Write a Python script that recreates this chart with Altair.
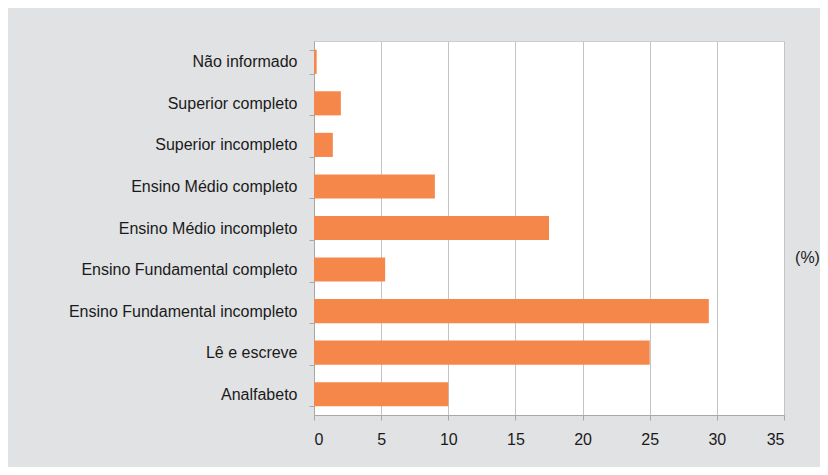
import altair as alt
import pandas as pd

categories = [
    "Não informado",
    "Superior completo",
    "Superior incompleto",
    "Ensino Médio completo",
    "Ensino Médio incompleto",
    "Ensino Fundamental completo",
    "Ensino Fundamental incompleto",
    "Lê e escreve",
    "Analfabeto",
]
values = [0.2, 2.0, 1.4, 9.0, 17.5, 5.3, 29.4, 25.0, 10.0]
x_ticks = [0, 5, 10, 15, 20, 25, 30, 35]

df = pd.DataFrame({"categoria": categories, "valor": values})

FONT = "Liberation Sans"
FS = 16
BG = "#e1e2e4"
ORANGE = "#f5874a"
TXT = "#1a1a1a"

chart = (
    alt.Chart(df)
    .mark_bar(color=ORANGE)
    .encode(
        y=alt.Y(
            "categoria:N",
            sort=categories,
            scale=alt.Scale(paddingInner=0.42, paddingOuter=0.21),
            axis=alt.Axis(
                title=None,
                grid=False,
                tickBand="extent",
                tickSize=5,
                tickColor="#a8a8a8",
                domainColor="#a8a8a8",
                labelPadding=12,
                labelFont=FONT,
                labelFontSize=FS,
                labelColor=TXT,
                labelLimit=400,
            ),
        ),
        x=alt.X(
            "valor:Q",
            scale=alt.Scale(domain=[0, 35], nice=False),
            axis=alt.Axis(
                values=x_ticks,
                title="(%)",
                titleFont=FONT,
                titleFontSize=FS,
                titleFontWeight="normal",
                titleColor=TXT,
                titleX=493,
                titleY=-158,
                titleAlign="center",
                titleBaseline="middle",
                grid=True,
                gridColor="#c4c4c4",
                tickSize=5,
                tickColor="#a8a8a8",
                domainColor="#a8a8a8",
                labelPadding=11,
                labelFont=FONT,
                labelFontSize=FS,
                labelColor=TXT,
            ),
        ),
    )
    .properties(
        width=470,
        height=374,
        autosize=alt.AutoSizeParams(type="none"),
        padding={"left": 306, "top": 33, "right": 36, "bottom": 52},
        background=BG,
    )
    .configure_view(fill="white", stroke="#cccccc", strokeWidth=1)
)

chart.save("out.html", embed_options={"renderer": "svg", "actions": False})
